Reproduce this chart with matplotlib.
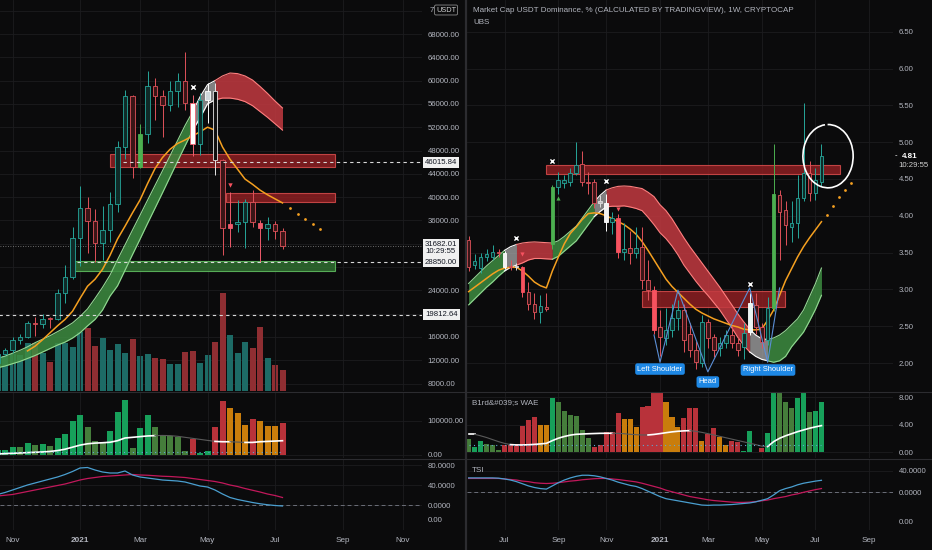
import matplotlib
matplotlib.use("Agg")
import matplotlib.pyplot as plt
import matplotlib.transforms as mtrans
from matplotlib.lines import Line2D
from matplotlib.patches import Arc, Rectangle

plt.rcParams['font.family'] = ['Liberation Sans', 'DejaVu Sans']

# ====================== DATA ======================
# Left chart: BTC / USDT weekly. week index 0 = week of 4 Jan 2021
btc_week = list(range(-11, 28))
btc_open = [11500, 13030, 13780, 15480, 15960, 18360, 18180, 19300, 19000, 23500, 26300,
            33000, 38100, 35900, 32100, 34300, 38900, 48600, 57400, 45200, 50800,
            59000, 57400, 55800, 58200, 60000, 56100, 49100, 56600, 58200, 46400,
            34700, 35300, 35700, 39100, 35600, 34700, 35300, 34200]
btc_high = [13350, 14100, 15950, 16500, 18800, 19450, 19900, 19420, 24200, 28400, 34800,
            41950, 40100, 37900, 38500, 40900, 49700, 58350, 57500, 52600, 61700,
            60500, 58400, 60000, 61300, 64900, 57500, 57900, 59600, 59600, 46600,
            40800, 39500, 39600, 41300, 36000, 36600, 35900, 34700]
btc_low = [11400, 12900, 13200, 14800, 15800, 16200, 17600, 17600, 18900, 21800, 26000,
           28100, 30400, 28850, 29200, 32300, 37400, 46500, 43300, 44950, 49300,
           53300, 50300, 54700, 55500, 55000, 47000, 47200, 52800, 43800, 30000,
           31500, 34000, 31300, 34800, 28800, 32700, 32800, 31100]
btc_close = [13030, 13780, 15480, 15960, 18360, 18180, 19150, 19000, 23500, 26300, 33000,
             38100, 35900, 32100, 34300, 38900, 48600, 57400, 45200, 50800, 59000,
             57400, 55800, 58200, 60000, 56100, 49100, 56600, 58200, 46400, 34700,
             35300, 35800, 39100, 35700, 34700, 35300, 34200, 31680]
btc_volume = [100, 105, 111, 108, 145, 145, 115, 88, 143, 145, 133,
              178, 188, 136, 158, 123, 141, 113, 156, 105, 111,
              98, 95, 80, 81, 117, 120, 85, 108, 146, 293,
              168, 113, 148, 130, 193, 98, 78, 63]
btc_ubs_hi = [12300, 12700, 13200, 13700, 14300, 15000, 15600, 16200, 16900, 17600, 18400,
              19500, 20800, 22600, 24500, 26600, 29250, 31780, 34350, 36880, 39450,
              41990, 44530, 47100, 49680, 52270, 54600, 57200, 59300, 60000, 60800,
              61300, 61200, 60800, 60100, 59000, 57800, 56500, 55300]
btc_ubs_lo = [10700, 11000, 11400, 11800, 12300, 12800, 13400, 14000, 14600, 15100, 15800,
              16700, 17900, 19000, 20600, 23000, 24760, 27440, 30130, 32770, 35460,
              38090, 40740, 43430, 46110, 48770, 51400, 53600, 56000, 56700, 57000,
              57000, 56800, 56400, 55700, 54700, 53700, 52600, 51500]
btc_ubs_state = list("ggggggggggg" "gggggggggg" "gggggg" "nnn" "rrrrrrrrr")
btc_ema_week = list(range(-7, 28))
btc_ema = [13600, 14400, 15500, 16700, 17900, 19000, 20400,
           22600, 24700, 25900, 27600, 30000, 32800, 35000, 37300, 39500, 42300,
           44900, 46800, 48200, 49200, 49800, 50500, 51200, 52000, 51500, 48600,
           46500, 44800, 43100, 42200, 41200, 40400, 39700, 39000]
btc_proj_week = [28, 29, 30, 31, 32]
btc_proj = [38130, 37100, 36240, 35380, 34520]
btc_wae = [15000, 15000, 23000, 23000, 36500, 28000, 32000, 25000, 51000, 61500, 99000,
           118000, 81000, 42000, 37500, 70000, 126000, 162000, 22000, 78000, 118000,
           83000, 57000, 56000, 54000, 10600, 46000, 5000, 10600, 83000, 160000,
           137000, 123000, 87500, 105000, 101000, 86500, 84600, 94000]
btc_wae_kind = list("gggdgdgdggg" "gdddgggdgg" "dddddrggrr" "ooorooor")
btc_wae_line = [3000, 4000, 5000, 6000, 7000, 8000, 9000, 10500, 13000, 17000, 23000,
                29000, 33000, 35000, 36000, 37500, 42000, 50000, 52000, 54000, 56000,
                57000, 57500, 57000, 55000, 52000, 49000, 46000, 43000, 40000, 39000,
                39000, 38000, 37000, 37000, 39000, 40000, 41000, 42000]
btc_wae_bright = [1] * 22 + [0] * 8 + [1, 1, 0, 0, 1, 1, 1, 1, 1]
btc_wae_deadzone = 8600
btc_tsi = [21, 25, 30, 35, 40, 44, 48, 52, 56, 61, 67,
           74, 75, 70, 66, 64, 64, 68, 60, 56, 54,
           52, 50, 49, 48, 46, 42, 38, 36, 30, 22,
           15, 11, 8, 5, 2.5, 0.5, -1, -2]
btc_tsi_signal = [18, 19.5, 21, 24, 27, 30, 33, 36, 39, 42, 46,
                  50, 53, 55, 57, 58, 59, 60, 61, 60, 59.5,
                  58.5, 57.5, 57, 56, 55, 53, 51, 49, 47, 44,
                  40, 37, 33, 29.5, 26, 22, 19, 15]
btc_zones = [(4.0, 34.0, 45170, 47400, 'r'), (19.4, 34.0, 39160, 40700, 'r'),
             (-0.67, 34.0, 27310, 29030, 'g')]
btc_levels = [(46015.84, 5.7), (28850.00, -0.4), (19812.64, -11)]
btc_last = 31682.01
btc_xmarks = [(15, 58900)]
btc_down_marks = [(20, 42080)]
btc_date_ticks = [-9, 0, 8, 17, 26, 35, 43]
btc_date_labels = ['Nov', '2021', 'Mar', 'May', 'Jul', 'Sep', 'Nov']
btc_price_ticks = [8000, 12000, 16000, 20000, 24000, 28000, 32000, 36000, 40000, 44000,
                   48000, 52000, 56000, 60000, 64000, 68000, 72000]
btc_price_labels = ['8000.00', '12000.00', '16000.00', '', '24000.00', '', '', '36000.00',
                    '40000.00', '44000.00', '48000.00', '52000.00', '56000.00', '60000.00',
                    '64000.00', '68000.00', '']

# Right chart: USDT dominance % weekly. week index 0 = week of 4 Jan 2021
dom_week = list(range(-32, 28))
dom_open = [3.67, 3.33, 3.29, 3.44, 3.44, 3.51, 3.49, 3.32, 3.31, 3.30,
            2.97, 2.80, 2.69, 2.76, 3.62, 4.39, 4.44, 4.46, 4.58, 4.70,
            4.46, 4.46, 4.20, 4.17, 3.92, 3.97, 3.51, 3.56, 3.50, 3.58,
            3.13, 2.99,
            2.49, 2.34, 2.45, 2.61, 2.72, 2.40, 2.18, 2.00, 2.56, 2.35,
            2.20, 2.27, 2.38, 2.27, 2.22, 2.42, 2.79, 2.49, 2.31, 2.75,
            4.28, 4.08, 3.85, 3.90, 4.24, 4.58, 4.31, 4.46]
dom_high = [3.72, 3.48, 3.50, 3.55, 3.60, 3.55, 3.52, 3.40, 3.36, 3.32,
            3.10, 2.95, 2.92, 2.95, 4.42, 4.60, 4.55, 4.65, 5.00, 4.88,
            4.60, 4.50, 4.28, 4.30, 4.05, 4.02, 3.90, 3.80, 3.85, 3.85,
            3.40, 3.05,
            2.72, 2.75, 2.80, 2.85, 2.80, 2.55, 2.30, 2.65, 2.60, 2.40,
            2.35, 2.45, 2.50, 2.35, 2.55, 2.95, 2.95, 2.55, 2.90, 4.98,
            4.35, 4.20, 4.20, 4.55, 5.53, 4.75, 4.65, 4.97]
dom_low = [3.25, 3.28, 3.22, 3.38, 3.40, 3.44, 3.28, 3.26, 3.27, 2.90,
           2.72, 2.60, 2.55, 2.70, 3.55, 4.30, 4.38, 4.40, 4.55, 4.40,
           4.30, 4.10, 4.12, 3.80, 3.75, 3.42, 3.40, 3.35, 3.42, 3.00,
           2.85, 2.40,
           2.10, 2.25, 2.35, 2.45, 2.15, 2.08, 1.92, 1.95, 2.20, 2.08,
           2.10, 2.20, 2.20, 2.10, 2.05, 2.38, 2.40, 2.20, 2.25, 2.70,
           3.40, 3.60, 3.65, 3.70, 4.20, 4.20, 4.22, 4.40]
dom_close = [3.30, 3.38, 3.44, 3.48, 3.51, 3.49, 3.30, 3.30, 3.30, 2.96,
             2.80, 2.69, 2.77, 2.73, 4.39, 4.49, 4.49, 4.58, 4.69, 4.46,
             4.45, 4.17, 4.17, 3.92, 3.97, 3.51, 3.55, 3.50, 3.56, 3.13,
             2.99, 2.45,
             2.35, 2.45, 2.61, 2.72, 2.31, 2.18, 2.01, 2.56, 2.34, 2.18,
             2.27, 2.38, 2.27, 2.18, 2.41, 2.82, 2.49, 2.29, 2.75, 4.29,
             4.05, 3.87, 3.90, 4.24, 4.58, 4.31, 4.49, 4.81]
dom_ubs_hi = [3.08, 3.16, 3.24, 3.32, 3.39, 3.46, 3.53, 3.58, 3.61, 3.63,
              3.64, 3.645, 3.64, 3.635, 3.63, 3.66, 3.72, 3.79, 3.86, 3.97,
              4.08, 4.19, 4.28, 4.35, 4.38, 4.40, 4.405, 4.40, 4.385, 4.37,
              4.32, 4.26,
              4.15, 4.07, 3.96, 3.83, 3.70, 3.58, 3.47, 3.36, 3.25, 3.14,
              3.03, 2.91, 2.79, 2.67, 2.56, 2.46, 2.38, 2.33, 2.32, 2.34,
              2.38, 2.44, 2.52, 2.60, 2.72, 2.90, 3.08, 3.29]
dom_ubs_lo = [2.79, 2.87, 2.95, 3.03, 3.10, 3.18, 3.25, 3.30, 3.33, 3.36,
              3.40, 3.42, 3.42, 3.415, 3.41, 3.45, 3.52, 3.59, 3.66, 3.77,
              3.88, 3.99, 4.06, 4.12, 4.13, 4.13, 4.135, 4.12, 4.10, 4.07,
              3.98, 3.88,
              3.77, 3.69, 3.59, 3.47, 3.33, 3.22, 3.11, 3.01, 2.92, 2.82,
              2.72, 2.60, 2.48, 2.35, 2.24, 2.15, 2.09, 2.05, 2.03, 2.01,
              2.03, 2.09, 2.22, 2.32, 2.42, 2.57, 2.73, 2.92]
dom_ubs_state = list("ggggggg" "nn" "rrrrrr" "ggggggg" "nn"
                     "rrrrrrrrrrrrrrrrrrrrrrrr" "nnn" "ggggggggg")
dom_ema = [2.97, 3.03, 3.09, 3.15, 3.21, 3.26, 3.29, 3.30, 3.30, 3.25,
           3.18, 3.10, 3.05, 3.02, 3.25, 3.44, 3.62, 3.76, 3.85, 3.95,
           4.03, 4.04, 4.03, 4.00, 3.96, 3.92, 3.88, 3.82, 3.75, 3.65,
           3.53, 3.40,
           3.27, 3.14, 3.04, 2.96, 2.88, 2.80, 2.73, 2.68, 2.64, 2.60,
           2.57, 2.54, 2.51, 2.49, 2.46, 2.45, 2.45, 2.46, 2.58, 2.72,
           2.92, 3.12, 3.28, 3.44, 3.58, 3.70, 3.81, 3.92]
dom_proj_week = [28, 29, 30, 31, 32]
dom_proj = [4.01, 4.13, 4.26, 4.35, 4.45]
dom_wae = [1.94, 0.78, 1.65, 1.17, 1.07, 0.39, 1.07, 1.07, 1.17, 3.83,
           4.66, 5.15, 3.98, 3.98, 7.96, 7.38, 6.02, 5.44, 5.29, 3.25,
           2.04, 0.83, 1.07, 3.01, 3.01, 5.68, 4.85, 4.85, 3.74, 6.65,
           6.80, 9.0,
           9.0, 7.38, 5.19, 3.74, 4.95, 6.41, 6.50, 1.65, 2.62, 3.50,
           2.28, 1.07, 1.65, 1.55, 0.19, 3.11, 0.0, 0.68, 2.77, 9.0,
           9.0, 7.28, 6.41, 7.86, 9.0, 5.83, 6.02, 7.38]
dom_wae_kind = list("dggdddrrrr" "rroogddddd" "drrrrrooor" "rr"
                    "rooorrrorr" "oorrgggrgg" "dddggdgg")
dom_wae_line = [2.62, 2.62, 2.40, 2.15, 1.85, 1.55, 1.30, 1.12, 1.07, 1.07,
                1.10, 1.15, 1.22, 1.30, 1.70, 2.05, 2.30, 2.50, 2.62, 2.66,
                2.70, 2.73, 2.76, 2.77, 2.77, 2.76, 2.70, 2.62, 2.56, 2.52,
                2.52, 2.60,
                2.72, 2.85, 2.97, 3.06, 3.12, 3.15, 3.05, 2.90, 2.72, 2.52,
                2.32, 2.12, 1.92, 1.72, 1.52, 1.32, 1.12, 0.90, 0.83, 1.55,
                2.04, 2.40, 2.70, 3.00, 3.25, 3.50, 3.70, 3.88]
dom_wae_bright = [1, 1] + [0] * 6 + [1] * 17 + [0] * 6 + [1] * 7 + [0] * 13 + [1] * 9
dom_wae_deadzone = 1.07
dom_tsi = [27, 27, 27, 27, 27, 26.5, 25, 23, 20, 16,
           12, 9, 7, 6, 12, 18, 23, 27, 30, 32,
           32, 31, 29, 26, 23, 19, 16, 13, 11, 7,
           2, -3,
           -8, -12, -14, -16, -18, -20, -22, -24, -24.5, -24,
           -24, -23.5, -23, -22, -21, -20, -18, -15, -12, -5,
           3, 7, 10, 14, 17, 19, 21, 22.5]
dom_tsi_signal = [26, 26, 26, 26, 26, 26, 25, 24, 23, 21,
                  20, 18, 17, 16.5, 17, 18, 19.5, 21, 22, 23.5,
                  24.5, 25.5, 26, 26, 25, 24, 22.5, 21, 19.5, 17,
                  14, 11,
                  8, 4, 1, -2, -5, -8, -10, -12, -14, -15.5,
                  -16.5, -17.5, -18.5, -19, -19, -18.5, -17.5, -16, -14.5, -12,
                  -10, -8, -5, -3, 0, 2.5, 5, 7]
dom_zones = [(-19.1, 30.1, 4.57, 4.69, 'r'), (-3.0, 20.9, 2.76, 2.98, 'r')]
dom_last = 4.81
dom_hs_week = [-1, 0, 3, 8, 15, 18, 20]
dom_hs = [2.38, 2.01, 2.99, 1.88, 3.02, 2.01, 3.02]
dom_hs_labels = [('Left Shoulder', 0, 1.918), ('Head', 8, 1.742), ('Right Shoulder', 18.06, 1.905)]
dom_xmarks = [(-24, 3.70), (-18, 4.74), (-9, 4.47), (15, 3.07)]
dom_down_marks = [(-23, 3.48), (-7, 4.09)]
dom_up_marks = [(-17, 4.24)]
dom_date_ticks = [-26, -17, -9, 0, 8, 17, 26, 35]
dom_date_labels = ['Jul', 'Sep', 'Nov', '2021', 'Mar', 'May', 'Jul', 'Sep']
dom_price_ticks = [2.0, 2.5, 3.0, 3.5, 4.0, 4.5, 5.0, 5.5, 6.0, 6.5]
dom_price_labels = ['2.00', '2.50', '3.00', '3.50', '4.00', '4.50', '5.00', '5.50', '6.00', '6.50']

# ====================== STYLE ======================
W, H = 932, 550
BG = '#0b0b0c'
GRID = '#1c1c1f'
TXT = '#b2b5be'
SEP = '#2c2c30'
CG, CGF = '#26a69a', '#0f2b28'
CR, CRF = '#e0525a', '#3a1517'
VOL_UP, VOL_DN = '#1d6b66', '#8f2e32'
BAND = {'g': ('#3d8c41', '#93d893', 0.85),
        'r': ('#c23a40', '#ff7f7f', 0.85),
        'n': ('#a9a9a9', '#ffffff', 0.75)}
WAE_C = {'g': '#17a05a', 'd': '#457d3b', 'r': '#b8323a', 'o': '#c97d0c'}
ZONE = {'r': ('#8c1f22', '#d84c4c'), 'g': ('#2f6e30', '#62c262')}
FS = 5.6

btc_hl = {8: ('#4caf50', '#4caf50'), 15: ('#ffffff', '#f06070'), 17: ('#cfd8dc', '#ffffff'),
          18: ('#101010', '#e6e6e6'), 20: ('#f05b6b', '#f05b6b'), 24: ('#f05b6b', '#f05b6b')}
dom_hl = {-26: ('#f2f2f2', '#ffffff'), -24: ('#bdbdbd', '#dddddd'), -23: ('#f7525f', '#f7525f'),
          -18: ('#4caf50', '#4caf50'), -10: ('#bdbdbd', '#dddddd'), -9: ('#f2f2f2', '#ffffff'),
          -7: ('#f7525f', '#f7525f'), -1: ('#f7525f', '#f7525f'), 15: ('#e8f5f3', '#ffffff'),
          19: ('#4caf50', '#4caf50')}

fig = plt.figure(figsize=(W / 100, H / 100), dpi=100, facecolor=BG)


def rect(x0, y0, x1, y1):
    return [x0 / W, 1 - y1 / H, (x1 - x0) / W, (y1 - y0) / H]


def right_ticks(ax):
    ax.yaxis.tick_right()
    ax.tick_params(axis='y', length=0, pad=4, labelsize=FS, labelcolor=TXT,
                   left=False, labelleft=False, right=False, labelright=True)


def style(ax, xlim, ylim, yticks, ylabels, xticks):
    ax.set_facecolor(BG)
    ax.set_xlim(*xlim)
    ax.set_ylim(*ylim)
    ax.set_xticks(xticks)
    ax.set_yticks(yticks)
    ax.set_yticklabels(ylabels)
    right_ticks(ax)
    ax.tick_params(axis='x', length=0, labelbottom=False)
    ax.grid(True, color=GRID, lw=0.6)
    ax.set_axisbelow(True)
    for s in ax.spines.values():
        s.set_visible(False)


def candles(ax, wk, o, h, l, c, width, minh, hl):
    for x, oo, hh, ll, cc in zip(wk, o, h, l, c):
        up = cc >= oo
        edge, face = (CG, CGF) if up else (CR, CRF)
        if x in hl:
            face, edge = hl[x]
        ax.vlines(x, ll, hh, color=edge, lw=0.7, zorder=5)
        lo_, hi_ = min(oo, cc), max(oo, cc)
        ax.bar(x, max(hi_ - lo_, minh), width, lo_, color=face, edgecolor=edge,
               lw=0.6, zorder=6)


def runs(state):
    out, k, n = [], 0, len(state)
    while k < n - 1:
        s = state[k + 1]
        j = k + 1
        while j + 1 < n and state[j + 1] == s:
            j += 1
        out.append((k, j, s))
        k = j
    return out


def band(ax, wk, hi, lo, state):
    for k, j, s in runs(state):
        fc, ec, a = BAND[s]
        xs = wk[k:j + 1]
        ax.fill_between(xs, lo[k:j + 1], hi[k:j + 1], color=fc, alpha=a, lw=0, zorder=3)
        ax.plot(xs, hi[k:j + 1], color=ec, lw=0.8, zorder=3)
        ax.plot(xs, lo[k:j + 1], color=ec, lw=0.8, zorder=3)


def zones(ax, zl):
    for x0, x1, y0, y1, kind in zl:
        fc, ec = ZONE[kind]
        ax.add_patch(Rectangle((x0, y0), x1 - x0, y1 - y0, facecolor=fc, edgecolor=ec,
                               lw=0.8, alpha=0.85, zorder=2))


def wae(ax, wk, vals, kinds, line, bright, dz, width):
    ax.bar(wk, vals, width, color=[WAE_C[k] for k in kinds], lw=0, zorder=3)
    for k, j, s in runs(bright):
        ax.plot(wk[k:j + 1], line[k:j + 1], color='#ffffff' if s else '#5a5a5a',
                lw=1.2 if s else 0.8, zorder=4)
    ax.hlines(dz, wk[0], wk[-1], colors='#5fa8d3', linestyles=(0, (1, 3)), lw=0.8, zorder=4)


def tsi(ax, wk, a, b):
    ax.axhline(0, color='#6b6e78', lw=0.7, ls=(0, (4, 3)), zorder=2)
    ax.plot(wk, b, color='#c2185b', lw=0.9, zorder=3)
    ax.plot(wk, a, color='#4a9fd0', lw=0.9, zorder=4)


def extra_scale(ax, frac0):
    tw = ax.twinx()
    tw.set_ylim(-frac0, 1 - frac0)
    tw.set_yticks([0])
    tw.set_yticklabels(['0.00'])
    right_ticks(tw)
    for s in tw.spines.values():
        s.set_visible(False)
    right_ticks(ax)


def date_labels(ax, labels):
    ax.set_xticklabels(labels)
    ax.tick_params(axis='x', labelbottom=True, labelsize=FS + 0.3, labelcolor=TXT, pad=5)
    for t in ax.get_xticklabels():
        if t.get_text() == '2021':
            t.set_fontweight('bold')


# ====================== LEFT PANEL ======================
LX = (-80 / 7.5, 342 / 7.5)
axV = fig.add_axes(rect(0, 0, 422, 391))
axV.set_facecolor(BG)
axV.set_xlim(*LX)
axV.set_ylim(0, 1173)
axV.set_yticks([])
axV.set_xticks(btc_date_ticks)
axV.tick_params(axis='x', length=0, labelbottom=False)
axV.grid(True, axis='x', color=GRID, lw=0.6)
for s in axV.spines.values():
    s.set_visible(False)
axV.bar(btc_week, btc_volume, 0.8,
        color=[VOL_UP if c >= o else VOL_DN for o, c in zip(btc_open, btc_close)], lw=0)

axL = axV.twinx()
style(axL, LX, (6714, 73837), btc_price_ticks, btc_price_labels, btc_date_ticks)
axL.patch.set_visible(False)
axL.grid(False)
axV.set_yticks([])
blendV = mtrans.blended_transform_factory(axV.transAxes, axL.transData)
for p in btc_price_ticks:
    axV.add_line(Line2D([0, 1], [p, p], transform=blendV, color=GRID, lw=0.6, zorder=0))

zones(axL, btc_zones)
band(axL, btc_week, btc_ubs_hi, btc_ubs_lo, btc_ubs_state)
axL.plot(btc_ema_week, btc_ema, color='#f5a020', lw=1.1, zorder=4)
axL.scatter(btc_proj_week, btc_proj, s=4, color='#f5a020', zorder=4, lw=0)
candles(axL, btc_week, btc_open, btc_high, btc_low, btc_close, 0.66, 150, btc_hl)
for lvl, x0 in btc_levels:
    axL.hlines(lvl, x0, LX[1], colors='#d8d8d8', linestyles=(0, (3, 3)), lw=0.8, zorder=7)
axL.axhline(btc_last, color='#8a8a8a', lw=0.6, ls=(0, (1, 2)), zorder=1)
for x, y in btc_xmarks:
    axL.scatter(x, y, marker='x', s=10, color='white', lw=1, zorder=8)
for x, y in btc_down_marks:
    axL.scatter(x, y, marker='v', s=10, color='#f7525f', lw=0, zorder=8)

blendL = mtrans.blended_transform_factory(axL.transAxes, axL.transData)
for lvl, _ in btc_levels:
    axL.annotate(f'{lvl:.2f}', xy=(1, lvl), xycoords=blendL, xytext=(3, 0),
                 textcoords='offset pixels', va='center', ha='left', fontsize=FS,
                 color='#131722', annotation_clip=False,
                 bbox=dict(boxstyle='square,pad=0.25', fc='#f0f0f0', ec='none'))
axL.annotate(f'{btc_last:.2f}\n10:29:55', xy=(1, btc_last), xycoords=blendL, xytext=(3, 5),
             textcoords='offset pixels', va='top', ha='left', fontsize=FS,
             color='#131722', annotation_clip=False, linespacing=1.05,
             bbox=dict(boxstyle='square,pad=0.25', fc='#f0f0f0', ec='none'))
fig.text(430 / W, 1 - 10 / H, '7', color=TXT, fontsize=FS, va='center', ha='left')
fig.text(436 / W, 1 - 10 / H, 'USDT', color='#d0d0d0', fontsize=FS - 0.3, va='center', ha='left',
         bbox=dict(boxstyle='round,pad=0.2', fc=BG, ec='#8a8a8a', lw=0.6))

axLW = fig.add_axes(rect(0, 392, 422, 458))
style(axLW, LX, (-8824, 185294), [0, 100000], ['0.00', '100000.00'], btc_date_ticks)
wae(axLW, btc_week, btc_wae, btc_wae_kind, btc_wae_line, btc_wae_bright, btc_wae_deadzone, 0.8)

axLT = fig.add_axes(rect(0, 459, 422, 530))
style(axLT, LX, (-50, 92), [0, 40, 80], ['0.0000', '40.0000', '80.0000'], btc_date_ticks)
tsi(axLT, btc_week, btc_tsi, btc_tsi_signal)
extra_scale(axLT, 11 / 71)
date_labels(axLT, btc_date_labels)

# ====================== RIGHT PANEL ======================
RX = ((467 - 660) / 5.98, (893 - 660) / 5.98)
axR = fig.add_axes(rect(467, 0, 893, 391))
style(axR, RX, (1.6196, 6.932), dom_price_ticks, dom_price_labels, dom_date_ticks)
zones(axR, dom_zones)
band(axR, dom_week, dom_ubs_hi, dom_ubs_lo, dom_ubs_state)
axR.plot(dom_week, dom_ema, color='#f5a020', lw=1.1, zorder=4)
axR.scatter(dom_proj_week, dom_proj, s=4, color='#f5a020', zorder=4, lw=0)
axR.plot(dom_hs_week, dom_hs, color='#5b8fd6', lw=0.8, zorder=7)
candles(axR, dom_week, dom_open, dom_high, dom_low, dom_close, 0.62, 0.012, dom_hl)
for x, y in dom_xmarks:
    axR.scatter(x, y, marker='x', s=9, color='white', lw=1, zorder=8)
for x, y in dom_down_marks:
    axR.scatter(x, y, marker='v', s=9, color='#f7525f', lw=0, zorder=8)
for x, y in dom_up_marks:
    axR.scatter(x, y, marker='^', s=9, color='#4caf50', lw=0, zorder=8)
for txt, x, y in dom_hs_labels:
    axR.text(x, y, txt, ha='center', va='center', fontsize=FS - 0.2, color='white', zorder=9,
             bbox=dict(boxstyle='round,pad=0.3', fc='#1e88e5', ec='none'))
axR.add_patch(Arc((28.1, 4.81), 8.4, 0.86, theta1=140, theta2=460, color='white', lw=1.2,
                  zorder=9))
blendR = mtrans.blended_transform_factory(axR.transAxes, axR.transData)
axR.annotate('-', xy=(1, dom_last), xycoords=blendR, xytext=(2, 0), textcoords='offset pixels',
             va='center', ha='left', fontsize=FS, color='white', annotation_clip=False)
axR.annotate(f'{dom_last:.2f}', xy=(1, dom_last), xycoords=blendR, xytext=(9, 0),
             textcoords='offset pixels', va='center', ha='left', fontsize=FS + 0.2,
             color='white', fontweight='bold', annotation_clip=False)
axR.annotate('10:29:55', xy=(1, dom_last), xycoords=blendR, xytext=(5, -9),
             textcoords='offset pixels', va='center', ha='left', fontsize=FS,
             color='#d0d0d0', annotation_clip=False)
fig.text(473 / W, 1 - 11 / H, 'Market Cap USDT Dominance, % (CALCULATED BY TRADINGVIEW), 1W, CRYPTOCAP',
         color=TXT, fontsize=FS + 0.2, va='center', ha='left')
fig.text(473 / W, 1 - 22 / H, 'UBS', color=TXT, fontsize=FS + 0.2, va='center', ha='left')

axRW = fig.add_axes(rect(467, 392, 893, 458))
style(axRW, RX, (-0.829, 8.771), [0, 4, 8], ['0.00', '4.00', '8.00'], dom_date_ticks)
wae(axRW, dom_week, dom_wae, dom_wae_kind, dom_wae_line, dom_wae_bright, dom_wae_deadzone, 0.85)
fig.text(472 / W, 1 - 403 / H, 'B1rd&#039;s WAE', color=TXT, fontsize=FS + 0.2, va='center', ha='left')

axRT = fig.add_axes(rect(467, 459, 893, 530))
style(axRT, RX, (-70.8, 62.5), [0, 40], ['0.0000', '40.0000'], dom_date_ticks)
tsi(axRT, dom_week, dom_tsi, dom_tsi_signal)
extra_scale(axRT, 9 / 71)
date_labels(axRT, dom_date_labels)
fig.text(472 / W, 1 - 470 / H, 'TSI', color=TXT, fontsize=FS + 0.2, va='center', ha='left')

# ====================== SEPARATORS ======================
for y in (391.5, 458.5):
    fig.add_artist(Line2D([0, 1], [1 - y / H] * 2, transform=fig.transFigure, color=SEP, lw=0.8))
fig.add_artist(Line2D([466 / W] * 2, [0, 1], transform=fig.transFigure, color=SEP, lw=1.6))

fig.savefig('out.png', dpi=100, facecolor=BG)
